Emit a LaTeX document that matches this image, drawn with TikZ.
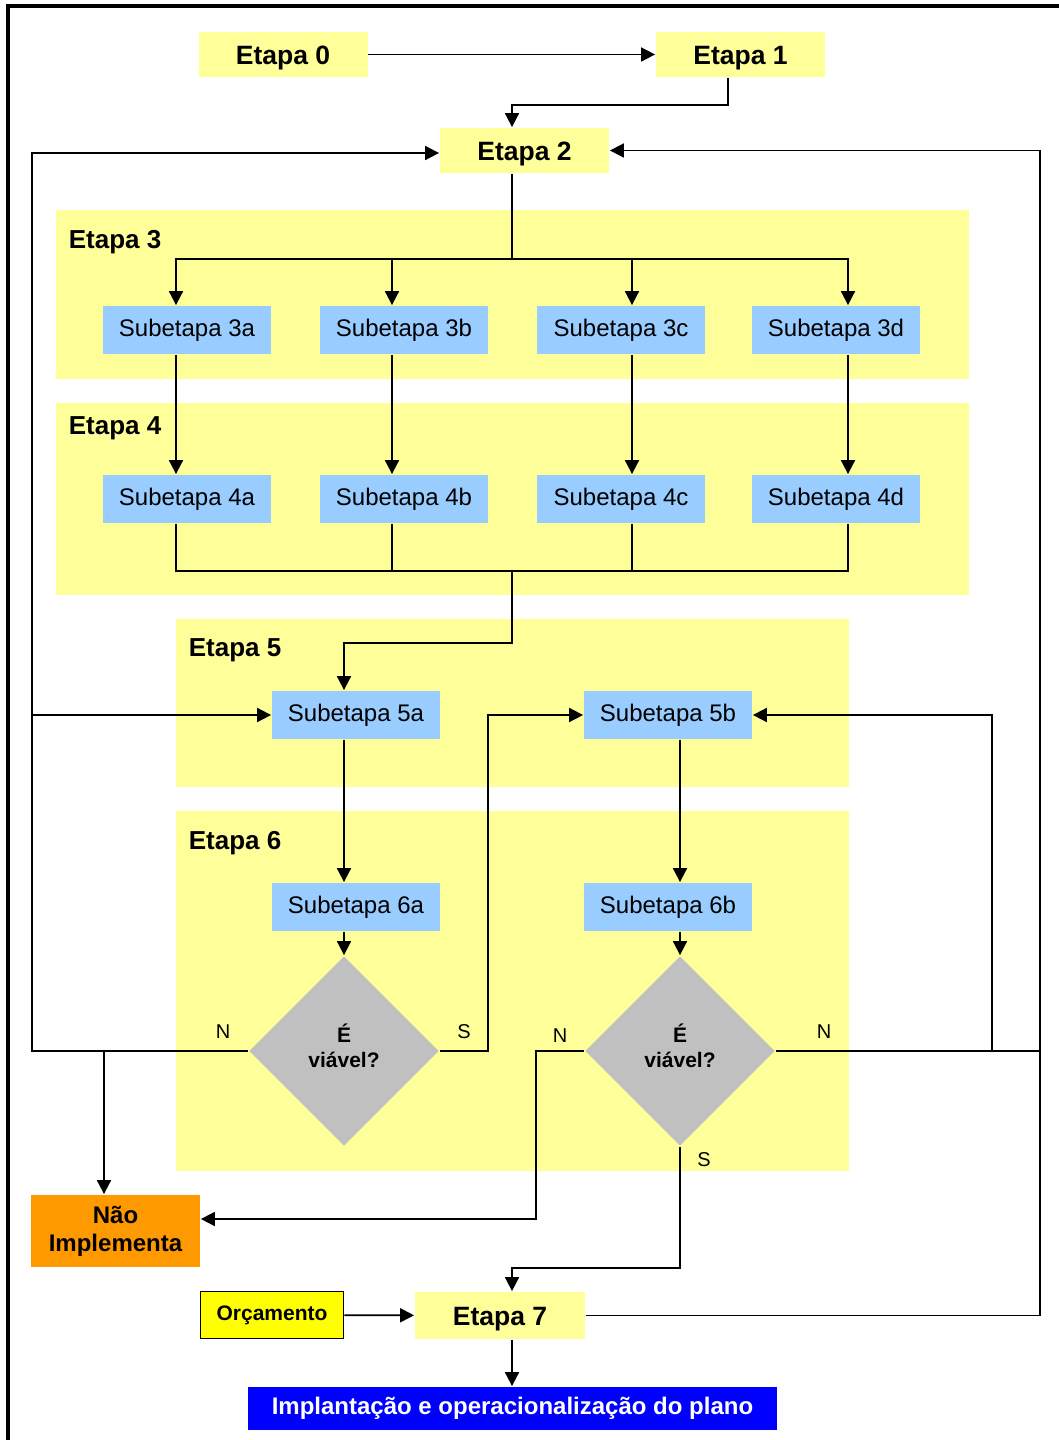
\documentclass[tikz,border=0pt]{standalone}
\usepackage{fontspec}
\setmainfont{Liberation Sans}
\usetikzlibrary{arrows.meta,calc,positioning,shapes.geometric}
\definecolor{amarelo}{HTML}{FFFF99}
\definecolor{amarelovivo}{HTML}{FFFF00}
\definecolor{azulclaro}{HTML}{99CCFF}
\definecolor{cinza}{HTML}{C0C0C0}
\definecolor{laranja}{HTML}{FF9900}
\definecolor{azul}{HTML}{0000FF}

\begin{document}
\begin{tikzpicture}[x=1pt,y=-1pt,line width=1.8pt,
	etapa/.style={fill=amarelo,minimum width=169pt,minimum height=45pt,inner sep=0pt,text height=19.5pt,text depth=0pt,font=\bfseries\fontsize{26.5}{30}\selectfont},
	subetapa/.style={fill=azulclaro,minimum width=168pt,minimum height=48pt,inner sep=0pt,font=\fontsize{24}{28}\selectfont},
	regiao/.style={fill=amarelo},
	titulo/.style={anchor=west,inner sep=0pt,font=\bfseries\fontsize{26}{30}\selectfont},
	decisao/.style={diamond,fill=cinza,aspect=1,minimum size=190pt,inner sep=0pt},
	resp/.style={inner sep=0pt,font=\fontsize{20}{24}\selectfont},
	seta/.style={-{Triangle[length=14pt,width=14pt]}}]
	\useasboundingbox (0,0) rectangle (1059,1440);
	\draw[line width=4pt] (8,1440) -- (8,6) -- (1059,6);
	
	% fundos das etapas
	\fill[regiao] (56,210) rectangle (969,379);
	\fill[regiao] (56,403) rectangle (969,595);
	\fill[regiao] (176,619) rectangle (849,787);
	\fill[regiao] (176,811) rectangle (849,1171);
	\node[titulo] (t3) at (68,242) {Etapa 3};
	\node[titulo] (t4) at (68,428) {Etapa 4};
	\node[titulo] (t5) at (188,650) {Etapa 5};
	\node[titulo] (t6) at (188,843) {Etapa 6};
	
	\node[etapa] (e0) at (283,54.5) {Etapa 0};
	\node[etapa] (e1) at (740.5,54.5) {Etapa 1};
	\node[etapa] (e2) at (524.5,150.5) {Etapa 2};
	\foreach \l/\x in {a/187,b/404,c/621,d/836} {
		\node[subetapa] (s3\l) at (\x,330) {Subetapa 3\l};
		\node[subetapa] (s4\l) at (\x,499) {Subetapa 4\l};
	}
	\node[subetapa] (s5a) at (356,715) {Subetapa 5a};
	\node[subetapa] (s5b) at (668,715) {Subetapa 5b};
	\node[subetapa] (s6a) at (356,907) {Subetapa 6a};
	\node[subetapa] (s6b) at (668,907) {Subetapa 6b};
	\node[decisao] (d1) at (344,1051) {};
	\node[decisao] (d2) at (680,1051) {};
	\node[align=center,font=\bfseries\fontsize{21}{25}\selectfont] (q1) at (344,1046) {É\\viável?};
	\node[align=center,font=\bfseries\fontsize{21}{25}\selectfont] (q2) at (680,1046) {É\\viável?};
	\node[fill=laranja,minimum width=169pt,minimum height=72pt,inner sep=0pt,align=center,font=\bfseries\fontsize{24}{28}\selectfont] (nao) at (115.5,1231) {Não\\Implementa};
	\node[draw,fill=amarelovivo,minimum width=143pt,minimum height=47pt,inner sep=0pt,font=\bfseries\fontsize{21}{25}\selectfont] (orc) at (272,1315) {Orçamento};
	\node[etapa,minimum width=170pt,minimum height=47pt] (e7) at (500,1315.5) {Etapa 7};
	\node[fill=azul,text=white,minimum width=529pt,minimum height=43pt,inner sep=0pt,font=\bfseries\fontsize{24}{28}\selectfont] (impl) at (512.5,1408.5) {Implantação e operacionalização do plano};
	
	\node[resp] (n1) at (223,1032) {N};
	\node[resp] (s1) at (464,1032) {S};
	\node[resp] (n2) at (560,1036) {N};
	\node[resp] (n3) at (824,1032) {N};
	\node[resp] (s2) at (704,1160) {S};
	
	% ligacoes
	\coordinate (bus3) at (512,259);
	\coordinate (bus4) at (512,571);
	\coordinate (loopL) at (32,1051);
	\coordinate (jN) at (104,1051);
	\coordinate (jS) at (488,1051);
	\coordinate (jN2) at (536,1051);
	\coordinate (jR) at (992,1051);
	\coordinate (loopR) at (1040,1051);
	
	\draw[seta] (e0) -- (e1);
	\draw[seta] ([xshift=-12.5pt]e1.south) -- ++(0,27) -| ([xshift=-12.5pt]e2.north);
	\draw ([xshift=-12.5pt]e2.south) -- (bus3);
	\foreach \l/\d in {a/-11,b/-12,c/11,d/12} {
		\draw[seta] (bus3) -| ([xshift=\d pt]s3\l.north);
		\draw[seta] ([xshift=\d pt]s3\l.south) -- ([xshift=\d pt]s4\l.north);
		\draw ([xshift=\d pt]s4\l.south) |- (bus4);
	}
	\draw[seta] (bus4) -- ++(0,72) -| ([xshift=-12pt]s5a.north);
	\draw[seta] ([xshift=-12pt]s5a.south) -- ([xshift=-12pt]s6a.north);
	\draw[seta] ([xshift=12pt]s5b.south) -- ([xshift=12pt]s6b.north);
	\draw[seta] ([xshift=-12pt]s6a.south) -- (d1.north);
	\draw[seta] ([xshift=12pt]s6b.south) -- (d2.north);
	
	\draw[seta] (d1.west) -- (loopL) |- ([yshift=-2.5pt]e2.west);
	\draw[seta] (loopL) |- (s5a.west);
	\draw[seta] (jN) -- (jN |- nao.north);
	\draw[seta] (d1.east) -- (jS) |- (s5b.west);
	\draw[seta] (d2.west) -- (jN2) |- ([yshift=12pt]nao.east);
	\draw (d2.east) -- (loopR);
	\draw[seta] (loopR) |- (e2.east);
	\draw[seta] (jR) |- (s5b.east);
	\draw (e7.east) -| (loopR);
	\draw[seta] (d2.south) -- ++(0,121) -| ([xshift=12pt]e7.north);
	\draw[seta] (orc) -- (e7);
	\draw[seta] ([xshift=12pt]e7.south) -- ([xshift=12pt]e7.south |- impl.north);
\end{tikzpicture}
\end{document}
